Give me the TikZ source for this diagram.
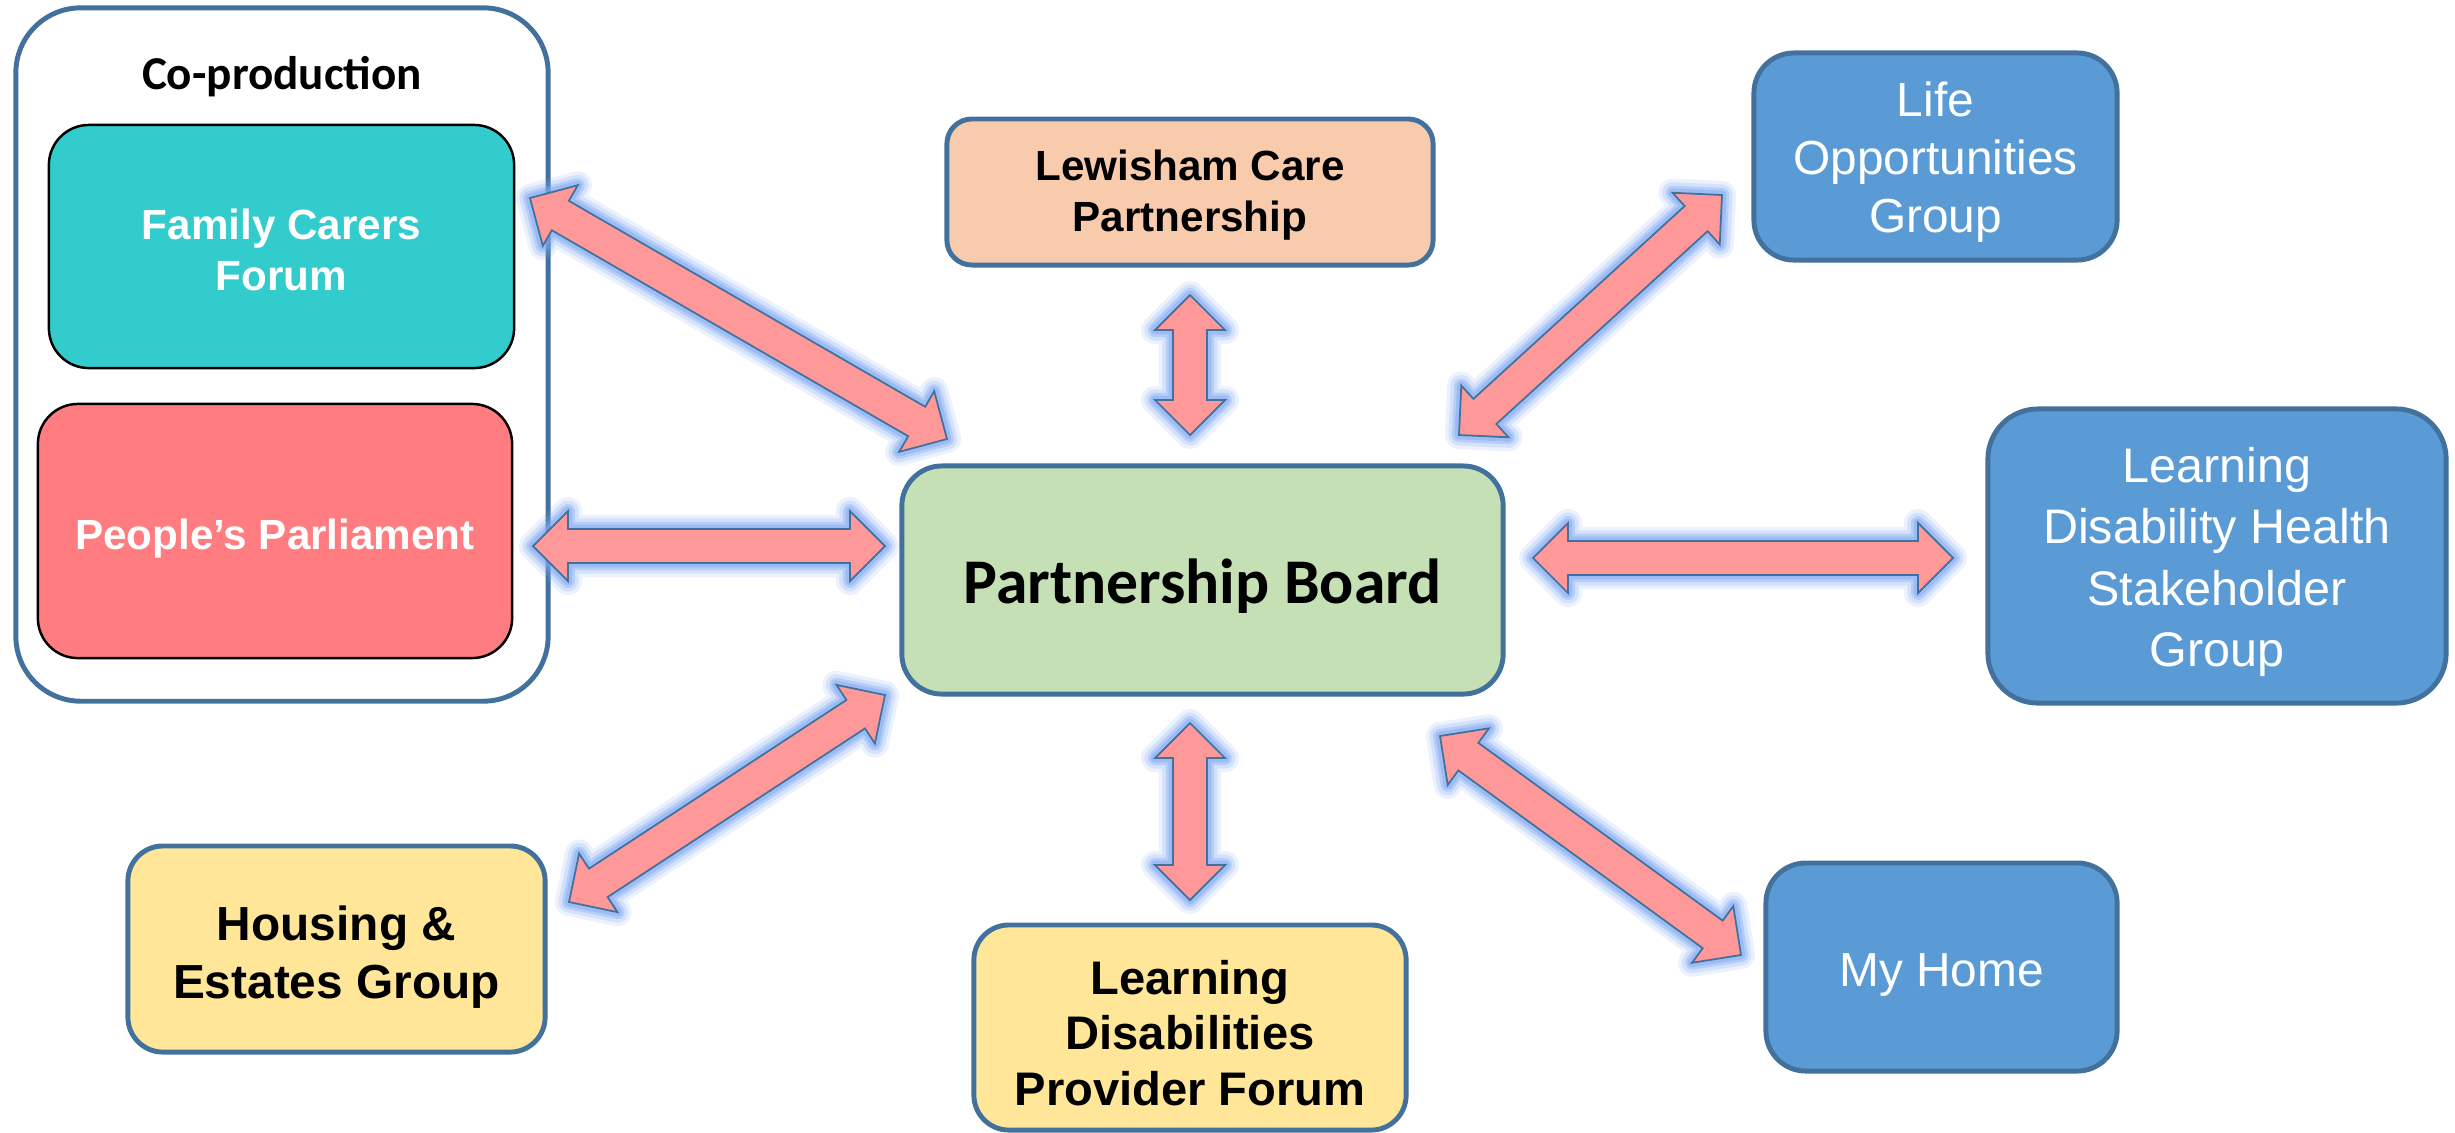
\documentclass[tikz,border=0pt]{standalone}
\usepackage{fontspec}
\setmainfont{Liberation Sans}
\newfontfamily\calibrifont{Carlito}
\usetikzlibrary{calc}

\definecolor{boxedge}{HTML}{41719C}
\definecolor{groupblue}{HTML}{5B9BD5}
\definecolor{boardgreen}{HTML}{C5E0B4}
\definecolor{carepeach}{HTML}{F8CBAD}
\definecolor{forumyellow}{HTML}{FFE699}
\definecolor{carerteal}{HTML}{33CCCC}
\definecolor{parlred}{HTML}{FF7C80}
\definecolor{arrowpink}{HTML}{FF9999}
\definecolor{glowblue}{HTML}{7DA7F2}

\newcommand{\headlen}{0.35cm}
\newcommand{\headhalf}{0.35cm}
\newcommand{\shafthalf}{0.17cm}

% outline of a block arrow with a head at both ends
\newcommand{\arrowpath}[2]{(#1)
    -- ($(#1)!\headlen!(#2)!\headhalf!90:(#2)$)
    -- ($(#1)!\headlen!(#2)!\shafthalf!90:(#2)$)
    -- ($(#2)!\headlen!(#1)!\shafthalf!-90:(#1)$)
    -- ($(#2)!\headlen!(#1)!\headhalf!-90:(#1)$)
    -- (#2)
    -- ($(#2)!\headlen!(#1)!\headhalf!90:(#1)$)
    -- ($(#2)!\headlen!(#1)!\shafthalf!90:(#1)$)
    -- ($(#1)!\headlen!(#2)!\shafthalf!-90:(#2)$)
    -- ($(#1)!\headlen!(#2)!\headhalf!-90:(#2)$)
    -- cycle}
\newcommand{\linkarrow}[2]{%
  \foreach \gw/\go in {8pt/0.15,6pt/0.22,4pt/0.35,2.5pt/0.45}
    \draw[glowblue, line width=\gw, draw opacity=\go, line join=round] \arrowpath{#1}{#2};
  \filldraw[fill=arrowpink, draw=boxedge, line width=0.5pt] \arrowpath{#1}{#2};}

\begin{document}
\begin{tikzpicture}[x=0.01cm, y=-0.01cm,
  groupbox/.style={rectangle, rounded corners=0.4cm, draw=boxedge, line width=1.4pt},
  member/.style={rectangle, rounded corners=0.4cm, draw=black, line width=0.7pt},
  lighttext/.style={align=center, text=white, font=\bfseries\fontsize{12}{14.7}\selectfont},
  darktext/.style={align=center, font=\bfseries\fontsize{12}{14.7}\selectfont},
  bluetext/.style={align=center, text=white, font=\fontsize{13.6}{16.5}\selectfont}]

  \useasboundingbox (0,0) rectangle (2455,1132);

  % co-production group
  \node[groupbox, rounded corners=0.65cm, fill=white, minimum width=5.32cm, minimum height=6.93cm] (coprod) at (282,354.5) {};
  \node[font=\calibrifont\bfseries\fontsize{13.4}{16}\selectfont] (coprod-text) at (282,77) {Co-production};
  \node[member, fill=carerteal, minimum width=4.65cm, minimum height=2.43cm] (carers) at (281.5,246.5) {};
  \node[lighttext] (carers-text) at (281.5,250) {Family Carers\\Forum};
  \node[member, fill=parlred, minimum width=4.74cm, minimum height=2.54cm] (parliament) at (275,531) {};
  \node[lighttext] (parliament-text) at (275,539) {People’s Parliament};

  % board and groups
  \node[groupbox, fill=boardgreen, minimum width=6.01cm, minimum height=2.28cm] (board) at (1202.5,580) {};
  \node[font=\calibrifont\bfseries\fontsize{18.1}{22}\selectfont] (board-text) at (1202.5,586) {Partnership Board};
  \node[groupbox, rounded corners=0.25cm, fill=carepeach, minimum width=4.86cm, minimum height=1.46cm] (care) at (1190,192) {};
  \node[darktext] (care-text) at (1190,195) {Lewisham Care\\Partnership};
  \node[groupbox, fill=groupblue, minimum width=3.63cm, minimum height=2.07cm] (lifeopp) at (1935.5,156.5) {};
  \node[bluetext] (lifeopp-text) at (1935.5,162.5) {Life\\Opportunities\\Group};
  \node[groupbox, rounded corners=0.5cm, fill=groupblue, minimum width=4.58cm, minimum height=2.94cm] (health) at (2217,556) {};
  \node[bluetext, font=\fontsize{13.8}{17.4}\selectfont] (health-text) at (2217,562) {Learning\\Disability Health\\Stakeholder\\Group};
  \node[groupbox, rounded corners=0.35cm, fill=forumyellow, minimum width=4.17cm, minimum height=2.06cm] (housing) at (336.5,949) {};
  \node[darktext, font=\bfseries\fontsize{13.6}{16.5}\selectfont] (housing-text) at (336.5,957) {Housing \&\\Estates Group};
  \node[groupbox, rounded corners=0.35cm, fill=forumyellow, minimum width=4.32cm, minimum height=2.05cm] (provider) at (1190,1027.5) {};
  \node[darktext, font=\bfseries\fontsize{13.4}{15.8}\selectfont] (provider-text) at (1190,1033) {Learning\\Disabilities\\Provider Forum};
  \node[groupbox, fill=groupblue, minimum width=3.51cm, minimum height=2.08cm] (myhome) at (1941.5,967) {};
  \node[bluetext] (myhome-text) at (1941.5,975) {My Home};

  % arrow ends
  \coordinate (carers-a) at (530,198);    \coordinate (carers-b) at (947,439);
  \coordinate (parl-a) at (533,546);      \coordinate (parl-b) at (885,546);
  \coordinate (care-a) at (1190,295);     \coordinate (care-b) at (1190,435);
  \coordinate (life-a) at (1722,195);     \coordinate (life-b) at (1459,435);
  \coordinate (health-a) at (1533,558);   \coordinate (health-b) at (1953,558);
  \coordinate (housing-a) at (885,695);   \coordinate (housing-b) at (569,902);
  \coordinate (provider-a) at (1190,723); \coordinate (provider-b) at (1190,900);
  \coordinate (home-a) at (1440,736);     \coordinate (home-b) at (1741,955);

  \linkarrow{carers-a}{carers-b}
  \linkarrow{parl-a}{parl-b}
  \linkarrow{care-a}{care-b}
  \linkarrow{life-a}{life-b}
  \linkarrow{health-a}{health-b}
  \linkarrow{housing-a}{housing-b}
  \linkarrow{provider-a}{provider-b}
  \linkarrow{home-a}{home-b}
\end{tikzpicture}
\end{document}
